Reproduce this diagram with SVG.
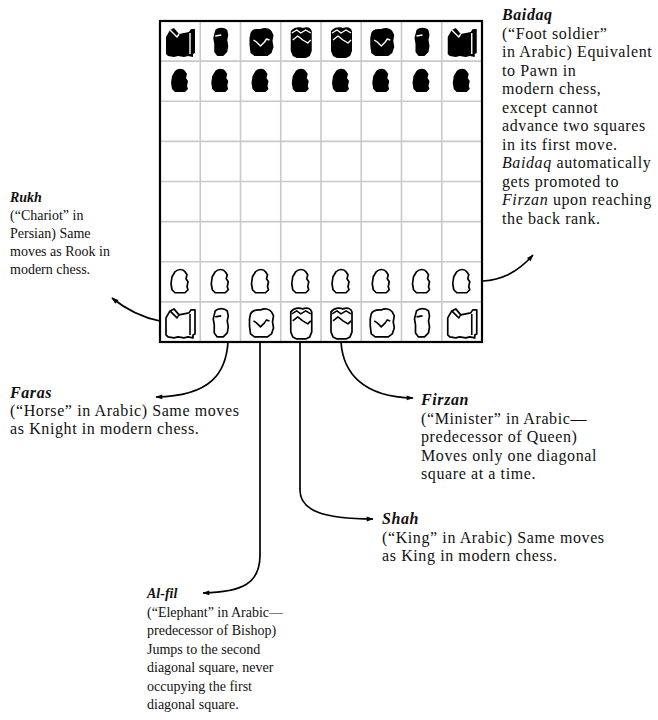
<svg xmlns="http://www.w3.org/2000/svg" xmlns:xlink="http://www.w3.org/1999/xlink" width="658" height="720" viewBox="0 0 658 720">
  <style>
    .txt { font-family: "Liberation Serif", "Times New Roman", serif; font-size: 16px; letter-spacing: 0.6px; fill: #111; }
    .sm { font-size: 14px; letter-spacing: 0px; }
    .ttl { font-style: italic; font-weight: bold; }
    .it { font-style: italic; }
    .grid { stroke: #c9c9c9; stroke-width: 1.6; fill: none; }
    .frame { stroke: #000; stroke-width: 2.2; fill: none; }
    .conn { stroke: #000; stroke-width: 1.7; fill: none; marker-end: url(#arrow); }
    .pb { fill: #000; }
    .pb-line { stroke: #fff; stroke-width: 1.4; fill: none; stroke-linejoin: round; }
    .pw { fill: #fff; stroke: #000; stroke-width: 1.7; stroke-linejoin: round; }
    .pw-line { stroke: #000; stroke-width: 1.6; fill: none; stroke-linejoin: round; }
  </style>
  <defs>
    <marker id="arrow" viewBox="0 0 10 10" refX="9" refY="5" markerWidth="10" markerHeight="7" markerUnits="userSpaceOnUse" orient="auto">
      <path d="M0 1.5 L10 5 L0 8.5 Z" fill="#000"/>
    </marker>
    <!-- piece outlines, drawn in a 40x40 square -->
    <path id="s-pawn" d="M15 10 C18 7 23 7 25 10 L27 13 L26 17 L28 20 L27 25 L28 28 L25 31 L15 31 L12 28 L11 22 L12 15 Z"/>
    <path id="s-rook" d="M6 16 L10 9 L14 7 L19 13 L29 11 L31 8 L35 8 L35 32 L33 33 L33 36 L28 35 L24 36 L18 35 L14 36 L8 35 L6 33 Z"/>
    <path id="s-knight" d="M15 9 C18 6 24 6 27 9 L28 14 L27 19 L28 25 L27 31 L23 35 L17 35 L14 31 L14 23 L13 17 Z"/>
    <path id="s-eleph" d="M10 12 C12 7 18 8 20 8 C24 6 29 7 31 10 L33 14 L32 20 L33 26 L31 32 L27 35 L14 35 L10 32 L9 24 L9 17 Z"/>
    <path id="s-king" d="M10 10 C14 5 20 6 22 7 C27 5 30 7 31 10 L31 30 L29 35 L25 37 L16 37 L12 35 L10 30 Z"/>
    <path id="l-rook" d="M10 9 L17 16 L19 13 M30 12 L30 33"/>
    <path id="l-knight" d="M15 15 L21 14"/>
    <path id="l-eleph" d="M13 19 L16 21 L20 25 L24 21 L26 18 L29 19"/>
    <path id="l-king" d="M11 12 L16 9 L20 12 L25 9 L30 12 M12 19 L17 15 L22 19 L27 22 L30 19"/>

    <g id="b-pawn"><use href="#s-pawn" class="pb"/></g>
    <g id="b-rook"><use href="#s-rook" class="pb"/><use href="#l-rook" class="pb-line"/></g>
    <g id="b-knight"><use href="#s-knight" class="pb"/><use href="#l-knight" class="pb-line"/></g>
    <g id="b-eleph"><use href="#s-eleph" class="pb"/><use href="#l-eleph" class="pb-line"/></g>
    <g id="b-king"><use href="#s-king" class="pb"/><use href="#l-king" class="pb-line"/></g>

    <g id="w-pawn"><use href="#s-pawn" class="pw"/></g>
    <g id="w-rook"><use href="#s-rook" class="pw"/><use href="#l-rook" class="pw-line"/></g>
    <g id="w-knight"><use href="#s-knight" class="pw"/><use href="#l-knight" class="pw-line"/></g>
    <g id="w-eleph"><use href="#s-eleph" class="pw"/><use href="#l-eleph" class="pw-line"/></g>
    <g id="w-king"><use href="#s-king" class="pw"/><use href="#l-king" class="pw-line"/></g>
  </defs>

  <rect width="658" height="720" fill="#fff"/>

  <!-- the 8x8 board -->
  <g id="board">
    <path class="grid" d="M200.25 21V342 M240.5 21V342 M280.75 21V342 M321 21V342 M361.25 21V342 M401.5 21V342 M441.75 21V342
                          M160 61.1H482 M160 101.25H482 M160 141.4H482 M160 181.5H482 M160 221.6H482 M160 261.75H482 M160 301.9H482"/>
    <rect class="frame" x="160" y="21" width="322" height="321"/>

    <!-- black back rank -->
    <use href="#b-rook" x="160" y="21"/>
    <use href="#b-knight" x="200.25" y="21"/>
    <use href="#b-eleph" x="240.5" y="21"/>
    <use href="#b-king" x="280.75" y="21"/>
    <use href="#b-king" x="321" y="21"/>
    <use href="#b-eleph" x="361.25" y="21"/>
    <use href="#b-knight" x="401.5" y="21"/>
    <use href="#b-rook" x="441.75" y="21"/>
    <!-- black pawns -->
    <use href="#b-pawn" x="160" y="61.1"/>
    <use href="#b-pawn" x="200.25" y="61.1"/>
    <use href="#b-pawn" x="240.5" y="61.1"/>
    <use href="#b-pawn" x="280.75" y="61.1"/>
    <use href="#b-pawn" x="321" y="61.1"/>
    <use href="#b-pawn" x="361.25" y="61.1"/>
    <use href="#b-pawn" x="401.5" y="61.1"/>
    <use href="#b-pawn" x="441.75" y="61.1"/>
    <!-- white pawns -->
    <use href="#w-pawn" x="160" y="261.75"/>
    <use href="#w-pawn" x="200.25" y="261.75"/>
    <use href="#w-pawn" x="240.5" y="261.75"/>
    <use href="#w-pawn" x="280.75" y="261.75"/>
    <use href="#w-pawn" x="321" y="261.75"/>
    <use href="#w-pawn" x="361.25" y="261.75"/>
    <use href="#w-pawn" x="401.5" y="261.75"/>
    <use href="#w-pawn" x="441.75" y="261.75"/>
    <!-- white back rank -->
    <use href="#w-rook" x="160" y="301.9"/>
    <use href="#w-knight" x="200.25" y="301.9"/>
    <use href="#w-eleph" x="240.5" y="301.9"/>
    <use href="#w-king" x="280.75" y="301.9"/>
    <use href="#w-king" x="321" y="301.9"/>
    <use href="#w-eleph" x="361.25" y="301.9"/>
    <use href="#w-knight" x="401.5" y="301.9"/>
    <use href="#w-rook" x="441.75" y="301.9"/>
  </g>

  <!-- leader lines from pieces to their notes -->
  <g id="connectors">
    <path class="conn" d="M483 281 C500 280 516 274 533 255"/>
    <path class="conn" d="M160 321 C145 318 128 311 112 298"/>
    <path class="conn" d="M228 342 C226 372 212 396 156 397"/>
    <path class="conn" d="M341 342 C343 372 362 397 413 398"/>
    <path class="conn" d="M300 342 L300 490 C300 510 322 519 373 519"/>
    <path class="conn" d="M260 342 L260 555 C260 584 242 592 203 593"/>
  </g>

  <g id="note-baidaq" class="txt">
    <text x="502" y="20" class="ttl">Baidaq</text>
    <text x="502" y="38.5">(“Foot soldier”</text>
    <text x="502" y="57">in Arabic) Equivalent</text>
    <text x="502" y="75.5">to Pawn in</text>
    <text x="502" y="94">modern chess,</text>
    <text x="502" y="112.5">except cannot</text>
    <text x="502" y="131">advance two squares</text>
    <text x="502" y="149.5">in its first move.</text>
    <text x="502" y="168"><tspan class="it">Baidaq</tspan> automatically</text>
    <text x="502" y="186.5">gets promoted to</text>
    <text x="502" y="205"><tspan class="it">Firzan</tspan> upon reaching</text>
    <text x="502" y="223.5">the back rank.</text>
  </g>

  <g id="note-rukh" class="txt sm">
    <text x="10" y="202" class="ttl">Rukh</text>
    <text x="10" y="220">(“Chariot” in</text>
    <text x="10" y="238">Persian)  Same</text>
    <text x="10" y="256">moves as Rook in</text>
    <text x="10" y="274">modern chess.</text>
  </g>

  <g id="note-faras" class="txt">
    <text x="10" y="398" class="ttl">Faras</text>
    <text x="10" y="416">(“Horse” in Arabic) Same moves</text>
    <text x="10" y="434">as Knight in modern chess.</text>
  </g>

  <g id="note-firzan" class="txt">
    <text x="421" y="405" class="ttl">Firzan</text>
    <text x="421" y="423.5">(“Minister” in Arabic—</text>
    <text x="421" y="442">predecessor of Queen)</text>
    <text x="421" y="460.5">Moves only one diagonal</text>
    <text x="421" y="479">square at a time.</text>
  </g>

  <g id="note-shah" class="txt">
    <text x="382" y="524" class="ttl">Shah</text>
    <text x="382" y="542.5">(“King” in Arabic) Same moves</text>
    <text x="382" y="561">as King in modern chess.</text>
  </g>

  <g id="note-alfil" class="txt sm">
    <text x="147" y="598" class="ttl">Al-fil</text>
    <text x="147" y="616.5">(“Elephant” in Arabic—</text>
    <text x="147" y="635">predecessor of Bishop)</text>
    <text x="147" y="653.5">Jumps to the second</text>
    <text x="147" y="672">diagonal square, never</text>
    <text x="147" y="690.5">occupying the first</text>
    <text x="147" y="709">diagonal square.</text>
  </g>
</svg>
